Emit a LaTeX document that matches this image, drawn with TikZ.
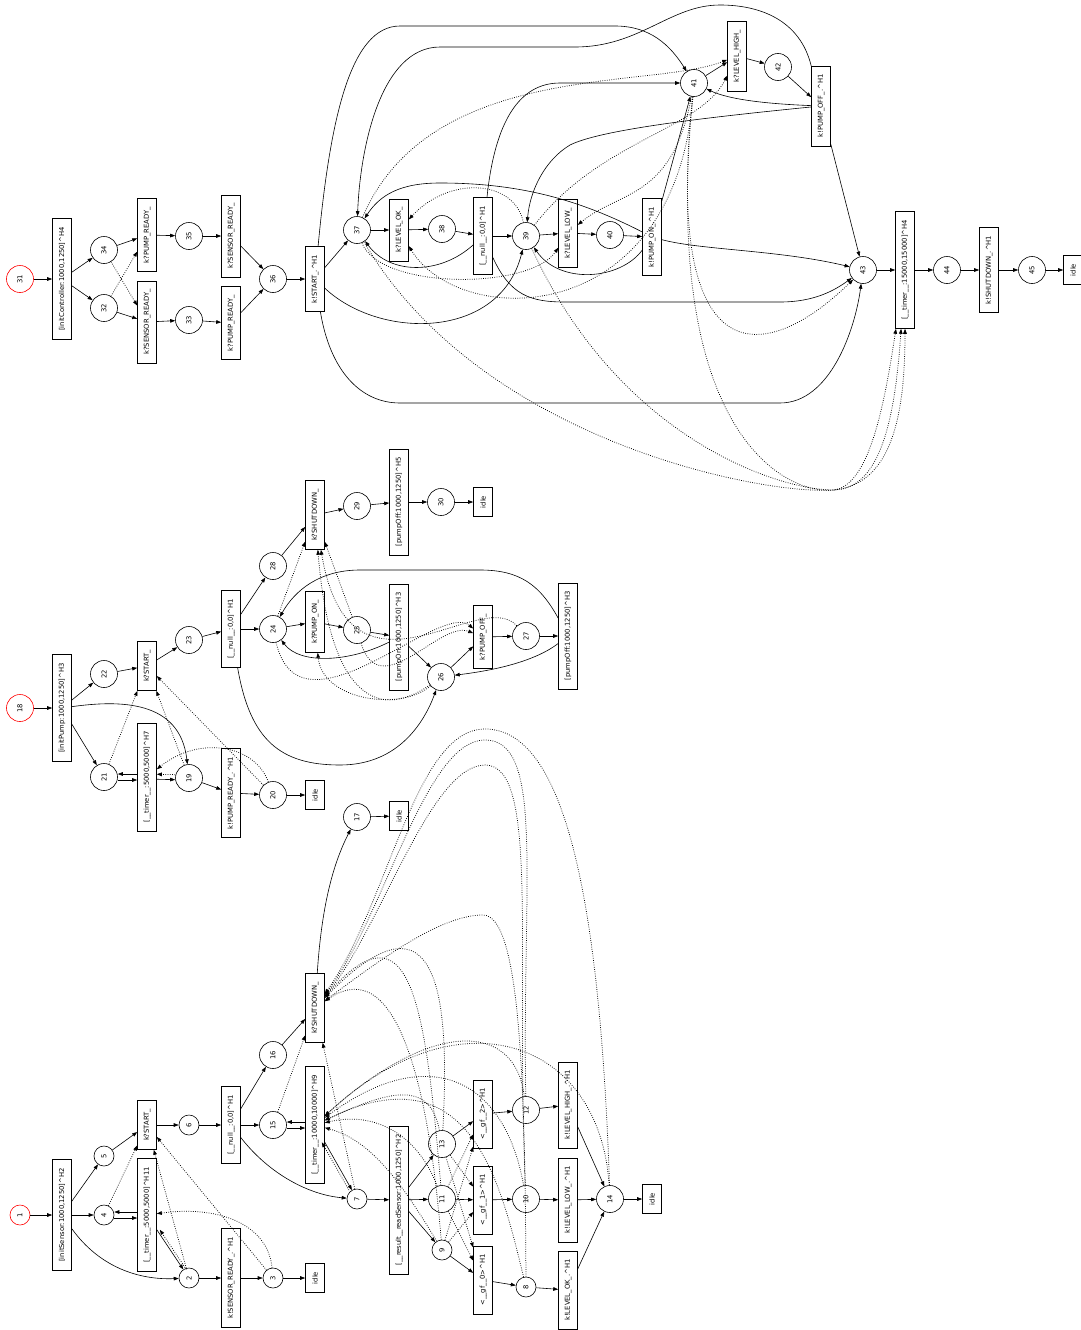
\documentclass[tikz,border=0pt]{standalone}
\usepackage{fontspec}
\setmainfont{DejaVu Sans}
\usepackage{tikz}
\usetikzlibrary{arrows.meta}
\newcommand{\gfs}{\fontsize{6.8}{8}\selectfont}
\newcommand{\crt}{\textasciicircum}
\tikzset{
  st/.style={circle, draw, line width=0.6pt, minimum size=27pt, inner sep=0pt, rotate=90, font=\gfs},
  sst/.style={st, minimum size=20pt},
  redst/.style={draw=red},
  act/.style={rectangle, draw, line width=0.6pt, rotate=90, minimum height=19pt, inner xsep=8.5pt, inner ysep=0pt, font=\gfs},
  tr/.style={-{Triangle[length=5pt,width=3.6pt]}, line width=0.6pt},
  may/.style={tr, line width=0.75pt, dash pattern=on 0.75pt off 1.5pt}
}

\begin{document}
\begin{tikzpicture}[x=1pt, y=-1pt]
\useasboundingbox (0,0) rectangle (1081,1330);

% sensor
\node[sst, redst] (s1) at (20,1215) {1};
\node[act] (inSen)  at (62,1215)  {[initSensor:1000,1250]\crt H2};
\node[sst] (s5)     at (104,1156) {5};
\node[sst] (s4)     at (104,1215) {4};
\node[sst] (s2)     at (189,1278) {2};
\node[act] (stA)    at (147,1125) {k?START\_};
\node[act] (tmA)    at (147,1215) {[\_\_timer\_\_:5000,5000]\crt H11};
\node[sst] (s6)     at (189,1125) {6};
\node[act] (nlA)    at (231,1125) {[\_\_null\_\_:0,0]\crt H1};
\node[act] (senRdy) at (231,1278) {k!SENSOR\_READY\_.\crt H1};
\node[sst] (s3)     at (273,1278) {3};
\node[act] (idA)    at (315,1278) {idle};
\node[st]  (s15)    at (273,1125) {15};
\node[st]  (s16)    at (273,1055) {16};
\node[act] (tmB)    at (315,1125) {[\_\_timer\_\_:10000,10000]\crt H9};
\node[act] (shdA)   at (315,1008) {k?SHUTDOWN\_};
\node[st]  (s17)    at (357,817)  {17};
\node[act] (idB)    at (399,816)  {idle};
\node[sst] (s7)     at (357,1199) {7};
\node[act] (res)    at (399,1200) {[\_\_result\_\_readSensor:1000,1250]\crt H2};
\node[st]  (s13)    at (442,1144) {13};
\node[st]  (s11)    at (442,1199) {11};
\node[sst] (s9)     at (442,1250) {9};
\node[act] (gfC)    at (483,1114) {<\_\_gf\_\_2>\crt H1};
\node[act] (gfB)    at (483,1200) {<\_\_gf\_\_1>\crt H1};
\node[act] (gfA)    at (483,1280) {<\_\_gf\_\_0>\crt H1};
\node[st]  (s12)    at (526,1110) {12};
\node[st]  (s10)    at (526,1199) {10};
\node[sst] (s8)     at (526,1287) {8};
\node[act] (hiA)    at (568,1105) {k!LEVEL\_HIGH\_.\crt H1};
\node[act] (loA)    at (568,1200) {k!LEVEL\_LOW\_.\crt H1};
\node[act] (okA)    at (568,1290) {k!LEVEL\_OK\_.\crt H1};
\node[st]  (s14)    at (610,1199) {14};
\node[act] (idC)    at (652,1199) {idle};

% pump
\node[st, redst] (s18) at (20,708) {18};
\node[act] (inPmp)  at (62,708)  {[initPump:1000,1250]\crt H3};
\node[st]  (s22)    at (104,674) {22};
\node[st]  (s21)    at (104,777) {21};
\node[act] (stB)    at (147,666) {k?START\_};
\node[act] (tmC)    at (147,777) {[\_\_timer\_\_:5000,5000]\crt H7};
\node[st]  (s19)    at (189,778) {19};
\node[st]  (s23)    at (189,640) {23};
\node[act] (nlB)    at (231,629) {[\_\_null\_\_:0,0]\crt H1};
\node[act] (pmpRdy) at (231,793) {k!PUMP\_READY\_.\crt H1};
\node[st]  (s20)    at (273,795) {20};
\node[act] (idD)    at (315,795) {idle};
\node[st]  (s24)    at (273,629) {24};
\node[st]  (s28)    at (273,566) {28};
\node[act] (shdB)   at (315,515) {k?SHUTDOWN\_};
\node[act] (pOnA)   at (315,622) {k?PUMP\_ON\_};
\node[st]  (s29)    at (357,506) {29};
\node[st]  (s25)    at (357,630) {25};
\node[act] (pOffA)  at (399,502) {[pumpOff:1000,1250]\crt H5};
\node[act] (pOnB)   at (399,637) {[pumpOn:1000,1250]\crt H3};
\node[st]  (s30)    at (441,502) {30};
\node[act] (idE)    at (483,502) {idle};
\node[st]  (s26)    at (441,677) {26};
\node[act] (pOffB)  at (483,637) {k?PUMP\_OFF\_};
\node[st]  (s27)    at (526,636) {27};
\node[act] (pOffC)  at (568,636) {[pumpOff:1000,1250]\crt H3};

% controller
\node[st, redst] (s31) at (20,279) {31};
\node[act] (inCtl)  at (62,279)   {[initController:1000,1250]\crt H4};
\node[st]  (s34)    at (104,250)  {34};
\node[st]  (s32)    at (104,308)  {32};
\node[act] (pRdyA)  at (147,235)  {k?PUMP\_READY\_};
\node[act] (sRdyA)  at (147,322)  {k?SENSOR\_READY\_};
\node[st]  (s35)    at (189,236)  {35};
\node[st]  (s33)    at (189,320)  {33};
\node[act] (sRdyB)  at (231,236)  {k?SENSOR\_READY\_};
\node[act] (pRdyB)  at (231,323)  {k?PUMP\_READY\_};
\node[st]  (s36)    at (273,279)  {36};
\node[act] (stK)    at (315,279)  {k!START\_.\crt H1};
\node[st]  (s37)    at (357,230)  {37};
\node[act] (lOk)    at (399,230)  {k?LEVEL\_OK\_};
\node[st]  (s38)    at (442,229)  {38};
\node[act] (nlC)    at (483,236)  {[\_\_null\_\_:0,0]\crt H1};
\node[st]  (s39)    at (526,236)  {39};
\node[act] (lLow)   at (568,233)  {k?LEVEL\_LOW\_};
\node[st]  (s40)    at (610,235)  {40};
\node[act] (pOnK)   at (652,237)  {k!PUMP\_ON\_.\crt H1};
\node[st]  (s41)    at (694,83)   {41};
\node[act] (lHigh)  at (737,56)   {k?LEVEL\_HIGH\_};
\node[st]  (s42)    at (778,67)   {42};
\node[act] (pOffK)  at (821,106)  {k!PUMP\_OFF\_.\crt H1};
\node[st]  (s43)    at (863,270)  {43};
\node[act] (tmD)    at (905,270)  {[\_\_timer\_\_:15000,15000]\crt H4};
\node[st]  (s44)    at (947,270)  {44};
\node[act] (shdK)   at (989,270)  {k!SHUTDOWN\_.\crt H1};
\node[st]  (s45)    at (1032,270) {45};
\node[act] (idF)    at (1073,270) {idle};

% sensor edges
\draw[tr] (s1) -- (inSen);
\draw[tr] (inSen) -- (s5);
\draw[tr] (inSen) -- (s4);
\draw[tr] (inSen) .. controls (100,1268) and (140,1280) .. (s2);
\draw[tr] (s5) -- (stA);
\draw[tr, transform canvas={yshift=3pt}] (tmA) -- (s4);
\draw[tr, transform canvas={yshift=-3pt}] (s4) -- (tmA);
\draw[tr] (tmA) -- (s2);
\draw[may, transform canvas={xshift=3pt}] (s2) -- (tmA);
\draw[tr] (stA) -- (s6);
\draw[tr] (s6) -- (nlA);
\draw[tr] (s2) -- (senRdy);
\draw[tr] (senRdy) -- (s3);
\draw[tr] (s3) -- (idA);
\draw[tr] (nlA) -- (s15);
\draw[tr] (nlA) -- (s16);
\draw[tr] (nlA) .. controls (270,1175) and (310,1195) .. (s7);
\draw[tr, transform canvas={yshift=3pt}] (tmB) -- (s15);
\draw[tr, transform canvas={yshift=-3pt}] (s15) -- (tmB);
\draw[tr] (s16) -- (shdA);
\draw[tr] (shdA) .. controls (322,900) and (335,860) .. (s17);
\draw[tr] (s17) -- (idB);
\draw[tr] (tmB) -- (s7);
\draw[tr] (s7) -- (res);
\draw[tr] (res) -- (s13);
\draw[tr] (res) -- (s11);
\draw[tr] (res) -- (s9);
\draw[tr] (s13) -- (gfC);
\draw[tr] (s11) -- (gfB);
\draw[tr] (s9) -- (gfA);
\draw[tr] (gfC) -- (s12);
\draw[tr] (gfB) -- (s10);
\draw[tr] (gfA) -- (s8);
\draw[tr] (s12) -- (hiA);
\draw[tr] (s10) -- (loA);
\draw[tr] (s8) -- (okA);
\draw[tr] (hiA) -- (s14);
\draw[tr] (loA) -- (s14);
\draw[tr] (okA) -- (s14);
\draw[tr] (s14) -- (idC);

% sensor: may edges
\draw[may] (s4) -- (stA);
\draw[may] (s2) -- (stA);
\draw[may] (s3) -- (stA);
\draw[may] (s3) .. controls (268,1225) and (220,1205) .. (tmA);
\draw[may] (s15) -- (shdA);
\draw[may] (s7) -- (shdA);
\draw[may, transform canvas={xshift=-3pt}] (s7) -- (tmB);
\draw[may] (s9) -- (gfB);
\draw[may] (s9) -- (gfC);
\draw[may] (s11) -- (gfA);
\draw[may] (s11) -- (gfC);
\draw[may] (s13) -- (gfB);
\draw[may] (s13) -- (gfA);
\draw[may] (s9) .. controls (400,1180) and (370,1140) .. (tmB);
\draw[may] (s11) .. controls (420,1140) and (380,1110) .. (tmB);
\draw[may] (s13) .. controls (430,1080) and (390,1090) .. (tmB);
\draw[may] (s8) .. controls (500,1180) and (470,1050) .. (tmB);
\draw[may] (s10) .. controls (505,1080) and (430,1040) .. (tmB);
\draw[may] (s12) .. controls (515,1020) and (430,1020) .. (tmB);
\draw[may] (s14) .. controls (600,1040) and (460,990) .. (tmB);
\draw[may] (s9) .. controls (430,1100) and (400,950) .. (shdA);
\draw[may] (s11) .. controls (425,1000) and (410,900) .. (shdA);
\draw[may] (s13) .. controls (450,1000) and (440,880) .. (shdA);
\draw[may] (s8) .. controls (525,1080) and (520,915) .. (483,915) .. controls (440,915) and (380,960) .. (shdA);
\draw[may] (s10) .. controls (515,950) and (540,765) .. (485,765) .. controls (430,765) and (380,930) .. (shdA);
\draw[may] (s12) .. controls (522,880) and (545,740) .. (485,740) .. controls (425,740) and (385,915) .. (shdA);
\draw[may] (s14) .. controls (600,900) and (565,729) .. (485,729) .. controls (415,729) and (390,900) .. (shdA);

% pump edges
\draw[tr] (s18) -- (inPmp);
\draw[tr] (inPmp) -- (s22);
\draw[tr] (inPmp) -- (s21);
\draw[tr] (inPmp) .. controls (120,700) and (180,700) .. (s19);
\draw[tr] (s22) -- (stB);
\draw[tr, transform canvas={yshift=3pt}] (tmC) -- (s21);
\draw[tr, transform canvas={yshift=-3pt}] (s21) -- (tmC);
\draw[tr, transform canvas={yshift=-2pt}] (tmC) -- (s19);
\draw[tr] (stB) -- (s23);
\draw[tr] (s23) -- (nlB);
\draw[tr] (s19) -- (pmpRdy);
\draw[tr] (pmpRdy) -- (s20);
\draw[tr] (s20) -- (idD);
\draw[tr] (nlB) -- (s28);
\draw[tr] (nlB) -- (s24);
\draw[tr] (nlB) .. controls (250,740) and (280,765) .. (340,765) .. controls (400,765) and (425,720) .. (s26);
\draw[tr] (s28) -- (shdB);
\draw[tr] (shdB) -- (s29);
\draw[tr] (s29) -- (pOffA);
\draw[tr] (pOffA) -- (s30);
\draw[tr] (s30) -- (idE);
\draw[tr] (s24) -- (pOnA);
\draw[tr] (pOnA) -- (s25);
\draw[tr] (s25) -- (pOnB);
\draw[tr] (pOnB) .. controls (350,662) and (300,665) .. (s24);
\draw[tr] (pOnB) -- (s26);
\draw[tr] (s26) -- (pOffB);
\draw[tr] (pOffB) -- (s27);
\draw[tr] (s27) -- (pOffC);
\draw[tr] (pOffC) .. controls (530,665) and (480,672) .. (s26);
\draw[tr] (pOffC) .. controls (540,585) and (520,570) .. (480,570) -- (360,570) .. controls (320,570) and (295,590) .. (s24);

% pump: may edges
\draw[may] (s21) -- (stB);
\draw[may] (s19) -- (stB);
\draw[may] (s20) -- (stB);
\draw[may] (s20) .. controls (255,745) and (200,735) .. (tmC);
\draw[may, transform canvas={yshift=3pt}] (s19) -- (tmC);
\draw[may] (s24) -- (shdB);
\draw[may] (s25) -- (shdB);
\draw[may] (s26) .. controls (380,720) and (330,700) .. (shdB);
\draw[may] (s27) .. controls (480,585) and (350,720) .. (shdB);
\draw[may] (s26) .. controls (400,712) and (322,700) .. (pOnA);
\draw[may] (s24) .. controls (300,745) and (440,600) .. (pOffB);
\draw[may] (s25) .. controls (380,705) and (440,620) .. (pOffB);

% controller edges
\draw[tr] (s31) -- (inCtl);
\draw[tr] (inCtl) -- (s34);
\draw[tr] (inCtl) -- (s32);
\draw[tr] (s34) -- (pRdyA);
\draw[tr] (s32) -- (sRdyA);
\draw[may] (s34) -- (sRdyA);
\draw[may] (s32) -- (pRdyA);
\draw[tr] (pRdyA) -- (s35);
\draw[tr] (sRdyA) -- (s33);
\draw[tr] (s35) -- (sRdyB);
\draw[tr] (s33) -- (pRdyB);
\draw[tr] (sRdyB) -- (s36);
\draw[tr] (pRdyB) -- (s36);
\draw[tr] (s36) -- (stK);
\draw[tr] (stK) -- (s37);
\draw[tr] (stK) .. controls (380,340) and (500,340) .. (s39);
\draw[tr] (stK) .. controls (330,120) and (350,26) .. (400,26) -- (615,26) .. controls (650,26) and (670,45) .. (s41);
\draw[tr] (stK) .. controls (330,370) and (360,403) .. (400,403) -- (780,403) .. controls (830,403) and (855,330) .. (s43);
\draw[tr] (s37) -- (lOk);
\draw[tr] (lOk) -- (s38);
\draw[tr] (s38) -- (nlC);
\draw[tr] (nlC) -- (s39);
\draw[tr] (nlC) .. controls (440,275) and (390,275) .. (s37);
\draw[tr] (nlC) .. controls (495,120) and (520,83) .. (560,83) -- (s41);
\draw[tr] (nlC) .. controls (510,295) and (530,302) .. (565,302) -- (780,302) .. controls (815,302) and (835,290) .. (s43);
\draw[tr] (s39) -- (lLow);
\draw[tr] (lLow) -- (s40);
\draw[tr] (s40) -- (pOnK);
\draw[tr] (pOnK) .. controls (620,280) and (560,285) .. (s39);
\draw[tr] (pOnK) .. controls (580,200) and (520,183) .. (440,183) .. controls (400,183) and (380,195) .. (s37);
\draw[tr] (pOnK) -- (s41);
\draw[tr] (pOnK) .. controls (700,250) and (780,250) .. (s43);
\draw[tr] (s41) -- (lHigh);
\draw[tr] (lHigh) -- (s42);
\draw[tr] (s42) -- (pOffK);
\draw[tr] (pOffK) .. controls (770,104) and (730,100) .. (s41);
\draw[tr] (pOffK) .. controls (700,118) and (600,130) .. (570,145) .. controls (545,160) and (530,190) .. (s39);
\draw[tr] (pOffK) .. controls (800,20) and (760,5) .. (720,5) .. controls (670,5) and (640,47) .. (575,47) -- (440,47) .. controls (380,47) and (360,150) .. (s37);
\draw[tr] (pOffK) -- (s43);
\draw[tr] (s43) -- (tmD);
\draw[tr] (tmD) -- (s44);
\draw[tr] (s44) -- (shdK);
\draw[tr] (shdK) -- (s45);
\draw[tr] (s45) -- (idF);

% controller: may edges
\draw[may] (s39) .. controls (515,180) and (450,175) .. (lOk);
\draw[may] (s41) .. controls (675,330) and (460,330) .. (lOk);
\draw[may] (s37) .. controls (380,290) and (530,290) .. (lLow);
\draw[may] (s41) .. controls (672,200) and (620,190) .. (lLow);
\draw[may] (s37) .. controls (430,60) and (650,90) .. (lHigh);
\draw[may] (s39) .. controls (600,140) and (700,130) .. (lHigh);
\draw[may] (s37) .. controls (480,440) and (760,495) .. (833,490) .. controls (870,487) and (885,400) .. (tmD);
\draw[may] (s39) .. controls (620,440) and (780,490) .. (833,490) .. controls (880,490) and (895,420) .. (tmD);
\draw[may] (s41) .. controls (660,440) and (790,495) .. (833,490) .. controls (890,485) and (905,420) .. (tmD);
\draw[may] (s41) .. controls (664,370) and (760,370) .. (s43);
\end{tikzpicture}
\end{document}
